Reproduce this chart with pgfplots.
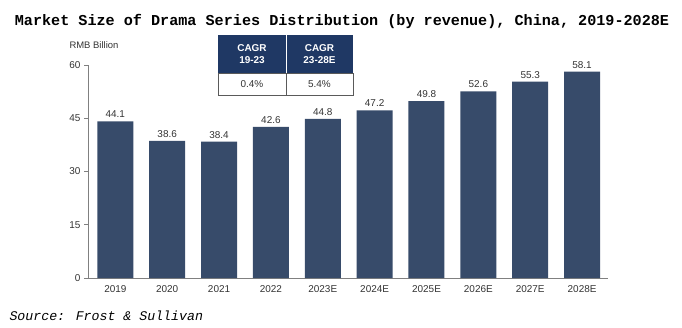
\documentclass[border=0pt]{standalone}
\usepackage{pgfplots}
\pgfplotsset{compat=1.18}
\usepackage{fontspec}
\setmainfont{Liberation Sans}
\newfontfamily\monofont{Liberation Mono}
\definecolor{barc}{HTML}{374B6A}
\definecolor{headc}{HTML}{1F3864}
\definecolor{txt}{HTML}{333333}
\definecolor{axc}{HTML}{808080}
\begin{document}
\begin{tikzpicture}[x=1bp,y=1bp]
\useasboundingbox (0,0) rectangle (682,327);
\node[anchor=center,font=\monofont\bfseries\fontsize{15.2}{17}\selectfont] at (342,306) {Market Size of Drama Series Distribution (by revenue), China, 2019-2028E};
\node[anchor=west,font=\monofont\itshape\fontsize{13.3}{15}\selectfont] at (6,11) {Source: Frost \& Sullivan};
\node[anchor=west,font=\fontsize{9.5}{11}\selectfont,text=txt] at (66,282) {RMB Billion};
\begin{axis}[
  at={(88bp,49bp)}, anchor=south west,
  scale only axis, width=520bp, height=213bp,
  xmin=-0.527, xmax=9.5, ymin=0, ymax=60,
  axis x line*=bottom, axis y line*=left,
  axis line style={axc, line width=0.8pt},
  ytick={0,15,30,45,60},
  xtick={0,...,9},
  xticklabels={2019,2020,2021,2022,2023E,2024E,2025E,2026E,2027E,2028E},
  tick label style={font=\fontsize{10}{11}\selectfont, text=txt},
  /pgf/number format/assume math mode=true,
  y tick style={axc, line width=0.8pt},
  major tick length=4bp,
  xtick style={draw=none},
  tick align=outside,
  ybar, bar width=36bp,
  nodes near coords,
  nodes near coords style={font=\fontsize{10}{11}\selectfont, text=txt, /pgf/number format/fixed, /pgf/number format/fixed zerofill, /pgf/number format/precision=1, /pgf/number format/assume math mode=true},
  clip=false,
]
\addplot[fill=barc, draw=none] coordinates {(0,44.1) (1,38.6) (2,38.4) (3,42.6) (4,44.8) (5,47.2) (6,49.8) (7,52.6) (8,55.3) (9,58.1)};
\end{axis}
% CAGR table
\fill[headc] (218,254) rectangle (353,292);
\draw[white, line width=0.6pt] (286,254) -- (286,292);
\draw[axc!70!black, line width=0.6pt] (218,232) rectangle (353,254);
\draw[axc!70!black, line width=0.6pt] (286,232) -- (286,254);
\node[white, font=\bfseries\fontsize{10}{11.5}\selectfont, align=center] at (252,273) {CAGR\\19-23};
\node[white, font=\bfseries\fontsize{10}{11.5}\selectfont, align=center] at (319.5,273) {CAGR\\23-28E};
\node[txt, font=\fontsize{10}{11}\selectfont] at (252,243) {0.4\%};
\node[txt, font=\fontsize{10}{11}\selectfont] at (319.5,243) {5.4\%};
\end{tikzpicture}
\end{document}
